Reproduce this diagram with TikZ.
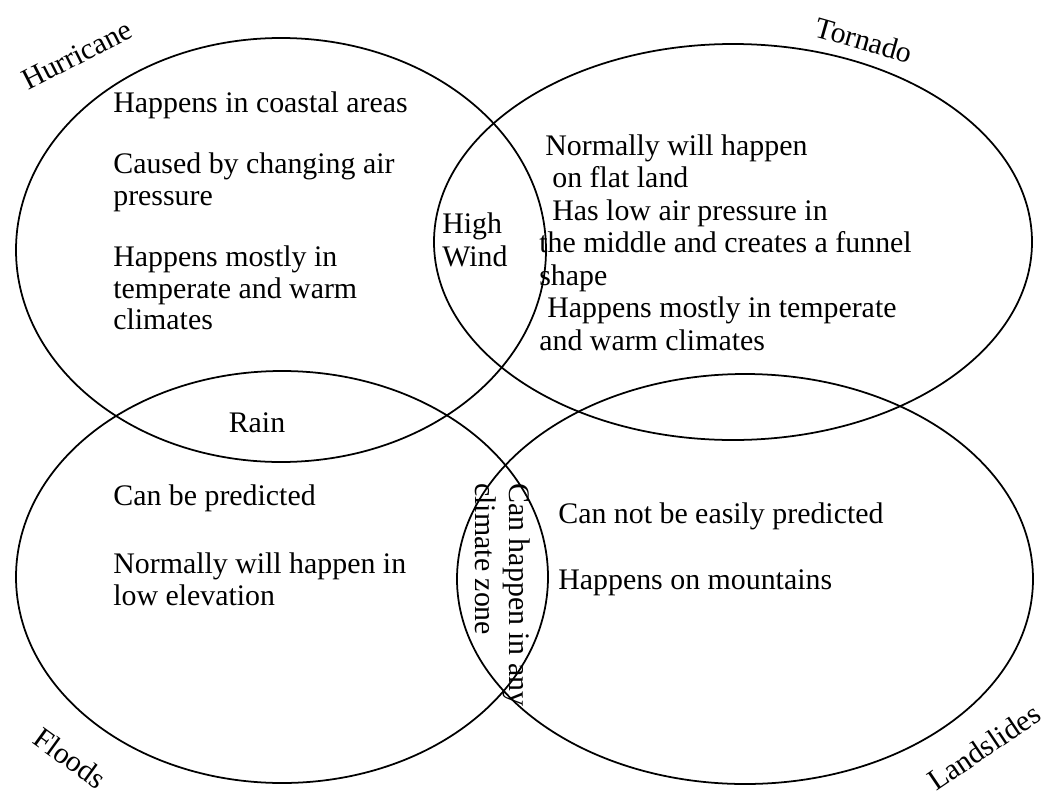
\documentclass[tikz,border=0pt]{standalone}
\usepackage{fontspec}
\setmainfont{Liberation Serif}
\usetikzlibrary{positioning}

\begin{document}
\begin{tikzpicture}[x=0.02cm, y=-0.02cm,
    venn/.style={draw, line width=1pt},
    txt/.style={anchor=north west, align=left, inner sep=0pt, font=\fontsize{17}{18}\selectfont},
    setname/.style={inner sep=0pt, font=\fontsize{17}{19}\selectfont},
  ]
  \useasboundingbox (0,0) rectangle (1059,798);

  \draw[venn] (281,250) ellipse [x radius=265, y radius=212]; % hurricane
  \draw[venn] (733,242) ellipse [x radius=299, y radius=198]; % tornado
  \draw[venn] (282,577) ellipse [x radius=266, y radius=206]; % floods
  \draw[venn] (745,579) ellipse [x radius=288, y radius=205]; % landslides

  \node[setname, rotate=27]  (hurricane)  at (77,55)   {Hurricane};
  \node[setname, rotate=-16] (tornado)    at (864,40)  {Tornado};
  \node[setname, rotate=-36] (floods)     at (70,758)  {Floods};
  \node[setname, rotate=34]  (landslides) at (984,747) {Landslides};

  \node[txt] (hurtxt) at (113,91) {Happens in coastal areas\\[17pt]
    Caused by changing air\\pressure\\[17pt]
    Happens mostly in\\temperate and warm\\climates};

  \node[txt, font=\fontsize{17}{18.5}\selectfont] (tortxt) at (539,134) {%
    \hspace*{0.12cm}Normally will happen\\
    \hspace*{0.26cm}on flat land\\
    \hspace*{0.26cm}Has low air pressure in\\
    the middle and creates a funnel\\
    shape\\
    \hspace*{0.16cm}Happens mostly in temperate\\
    and warm climates};

  \node[txt, font=\fontsize{17}{19.3}\selectfont] (wind) at (442,212) {High\\Wind};
  \node[setname] (rain) at (257,423) {Rain};

  \node[txt] (flotxt) at (113,484) {Can be predicted\\[21pt]
    Normally will happen in\\low elevation};

  \node[txt] (lantxt) at (558,502) {Can not be easily predicted\\[20pt]
    Happens on mountains};

  \node[txt, rotate=-90, font=\fontsize{17}{19.8}\selectfont] (anyzone) at (531,483)
    {Can happen in any\\climate zone};

\end{tikzpicture}
\end{document}
